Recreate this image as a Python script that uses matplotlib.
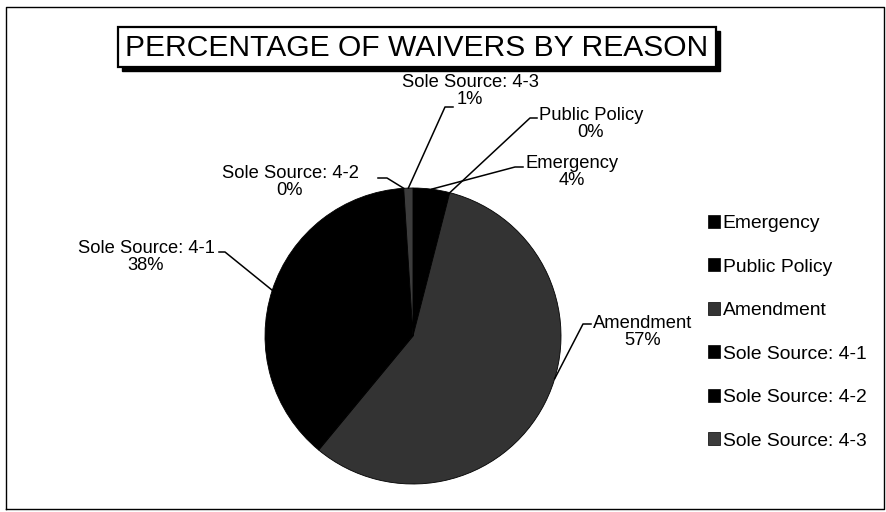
import matplotlib
matplotlib.use("Agg")
import matplotlib.pyplot as plt
from matplotlib.patches import Rectangle, Patch
import numpy as np

plt.rcParams['font.family'] = ['Liberation Sans', 'DejaVu Sans']

# ---- data ----
categories = ["Emergency", "Public Policy", "Amendment",
              "Sole Source: 4-1", "Sole Source: 4-2", "Sole Source: 4-3"]
percentages = [4, 0, 57, 38, 0, 1]
title = "PERCENTAGE OF WAIVERS BY REASON"

# ---- style ----
colors = ["#000000", "#000000", "#333333", "#000000", "#000000", "#3c3c3c"]
W, H = 886, 512

fig = plt.figure(figsize=(W / 100, H / 100), dpi=100)
ax = fig.add_axes([0, 0, 1, 1])
ax.set_xlim(0, W)
ax.set_ylim(0, H)
ax.set_aspect('equal')
ax.axis('off')

def Y(y):  # image row -> axis y
    return H - y

# outer frame
ax.plot([6, 6, 884, 884, 6], [Y(509), Y(7), Y(7), Y(509), Y(509)],
        color='black', lw=1.0)

# title box with shadow
bx0, by0, bx1, by1 = 118, 27, 716, 67
ax.add_patch(Rectangle((bx0 + 4, Y(by1 + 4)), bx1 - bx0, by1 - by0,
                       facecolor='black', edgecolor='black', zorder=2))
ax.add_patch(Rectangle((bx0, Y(by1)), bx1 - bx0, by1 - by0,
                       facecolor='white', edgecolor='black', lw=1.6, zorder=3))
ax.text((bx0 + bx1) / 2, Y((by0 + by1) / 2 + 1), title, ha='center', va='center',
        fontsize=21.6, zorder=4)

# pie
cx, cy, R = 413, 336, 148
wedges, _ = ax.pie(percentages, colors=colors, startangle=90, counterclock=False,
                   center=(cx, Y(cy)), radius=R, frame=True,
                   wedgeprops=dict(edgecolor='black', linewidth=0.6))
ax.set_xlim(0, W)
ax.set_ylim(0, H)
ax.axis('off')

# label layout (image coords): text centre, elbow, end of horizontal, anchor fraction
layout = {
    "Emergency":        dict(t=(572, 172), e=(515, 167), h=(523, 167), f=0.5),
    "Public Policy":    dict(t=(591, 124), e=(530, 118), h=(537, 118), f=0.5),
    "Amendment":        dict(t=(643, 332), e=(583, 324), h=(591, 324), f=0.45),
    "Sole Source: 4-1": dict(t=(146, 257), e=(225, 252), h=(219, 252), f=0.5),
    "Sole Source: 4-2": dict(t=(290, 182), e=(387, 178), h=(378, 178), f=0.5),
    "Sole Source: 4-3": dict(t=(470, 91),  e=(445, 107), h=(453, 107), f=0.5),
}

for w, name, pct in zip(wedges, categories, percentages):
    L = layout[name]
    ang = np.deg2rad(w.theta2 - L['f'] * (w.theta2 - w.theta1))
    ex = cx + R * np.cos(ang)
    ey = Y(cy) + R * np.sin(ang)
    ax.plot([ex, L['e'][0], L['h'][0]], [ey, Y(L['e'][1]), Y(L['h'][1])],
            color='black', lw=1.1, zorder=5)
    ax.text(L['t'][0], Y(L['t'][1]), f"{name}\n{pct:.0f}%", ha='center', va='center',
            multialignment='center', fontsize=13.2, linespacing=1.0, zorder=6)

# legend
handles = [Patch(facecolor=c, edgecolor='black', linewidth=0.5) for c in colors]
leg = ax.legend(handles, categories, loc='upper left',
                bbox_to_anchor=(708 / W, 1 - 215 / H), frameon=False,
                fontsize=13.9, handlelength=0.62, handleheight=0.62,
                handletextpad=0.15, labelspacing=1.37, borderpad=0,
                borderaxespad=0)

fig.savefig("out.png", dpi=100)
